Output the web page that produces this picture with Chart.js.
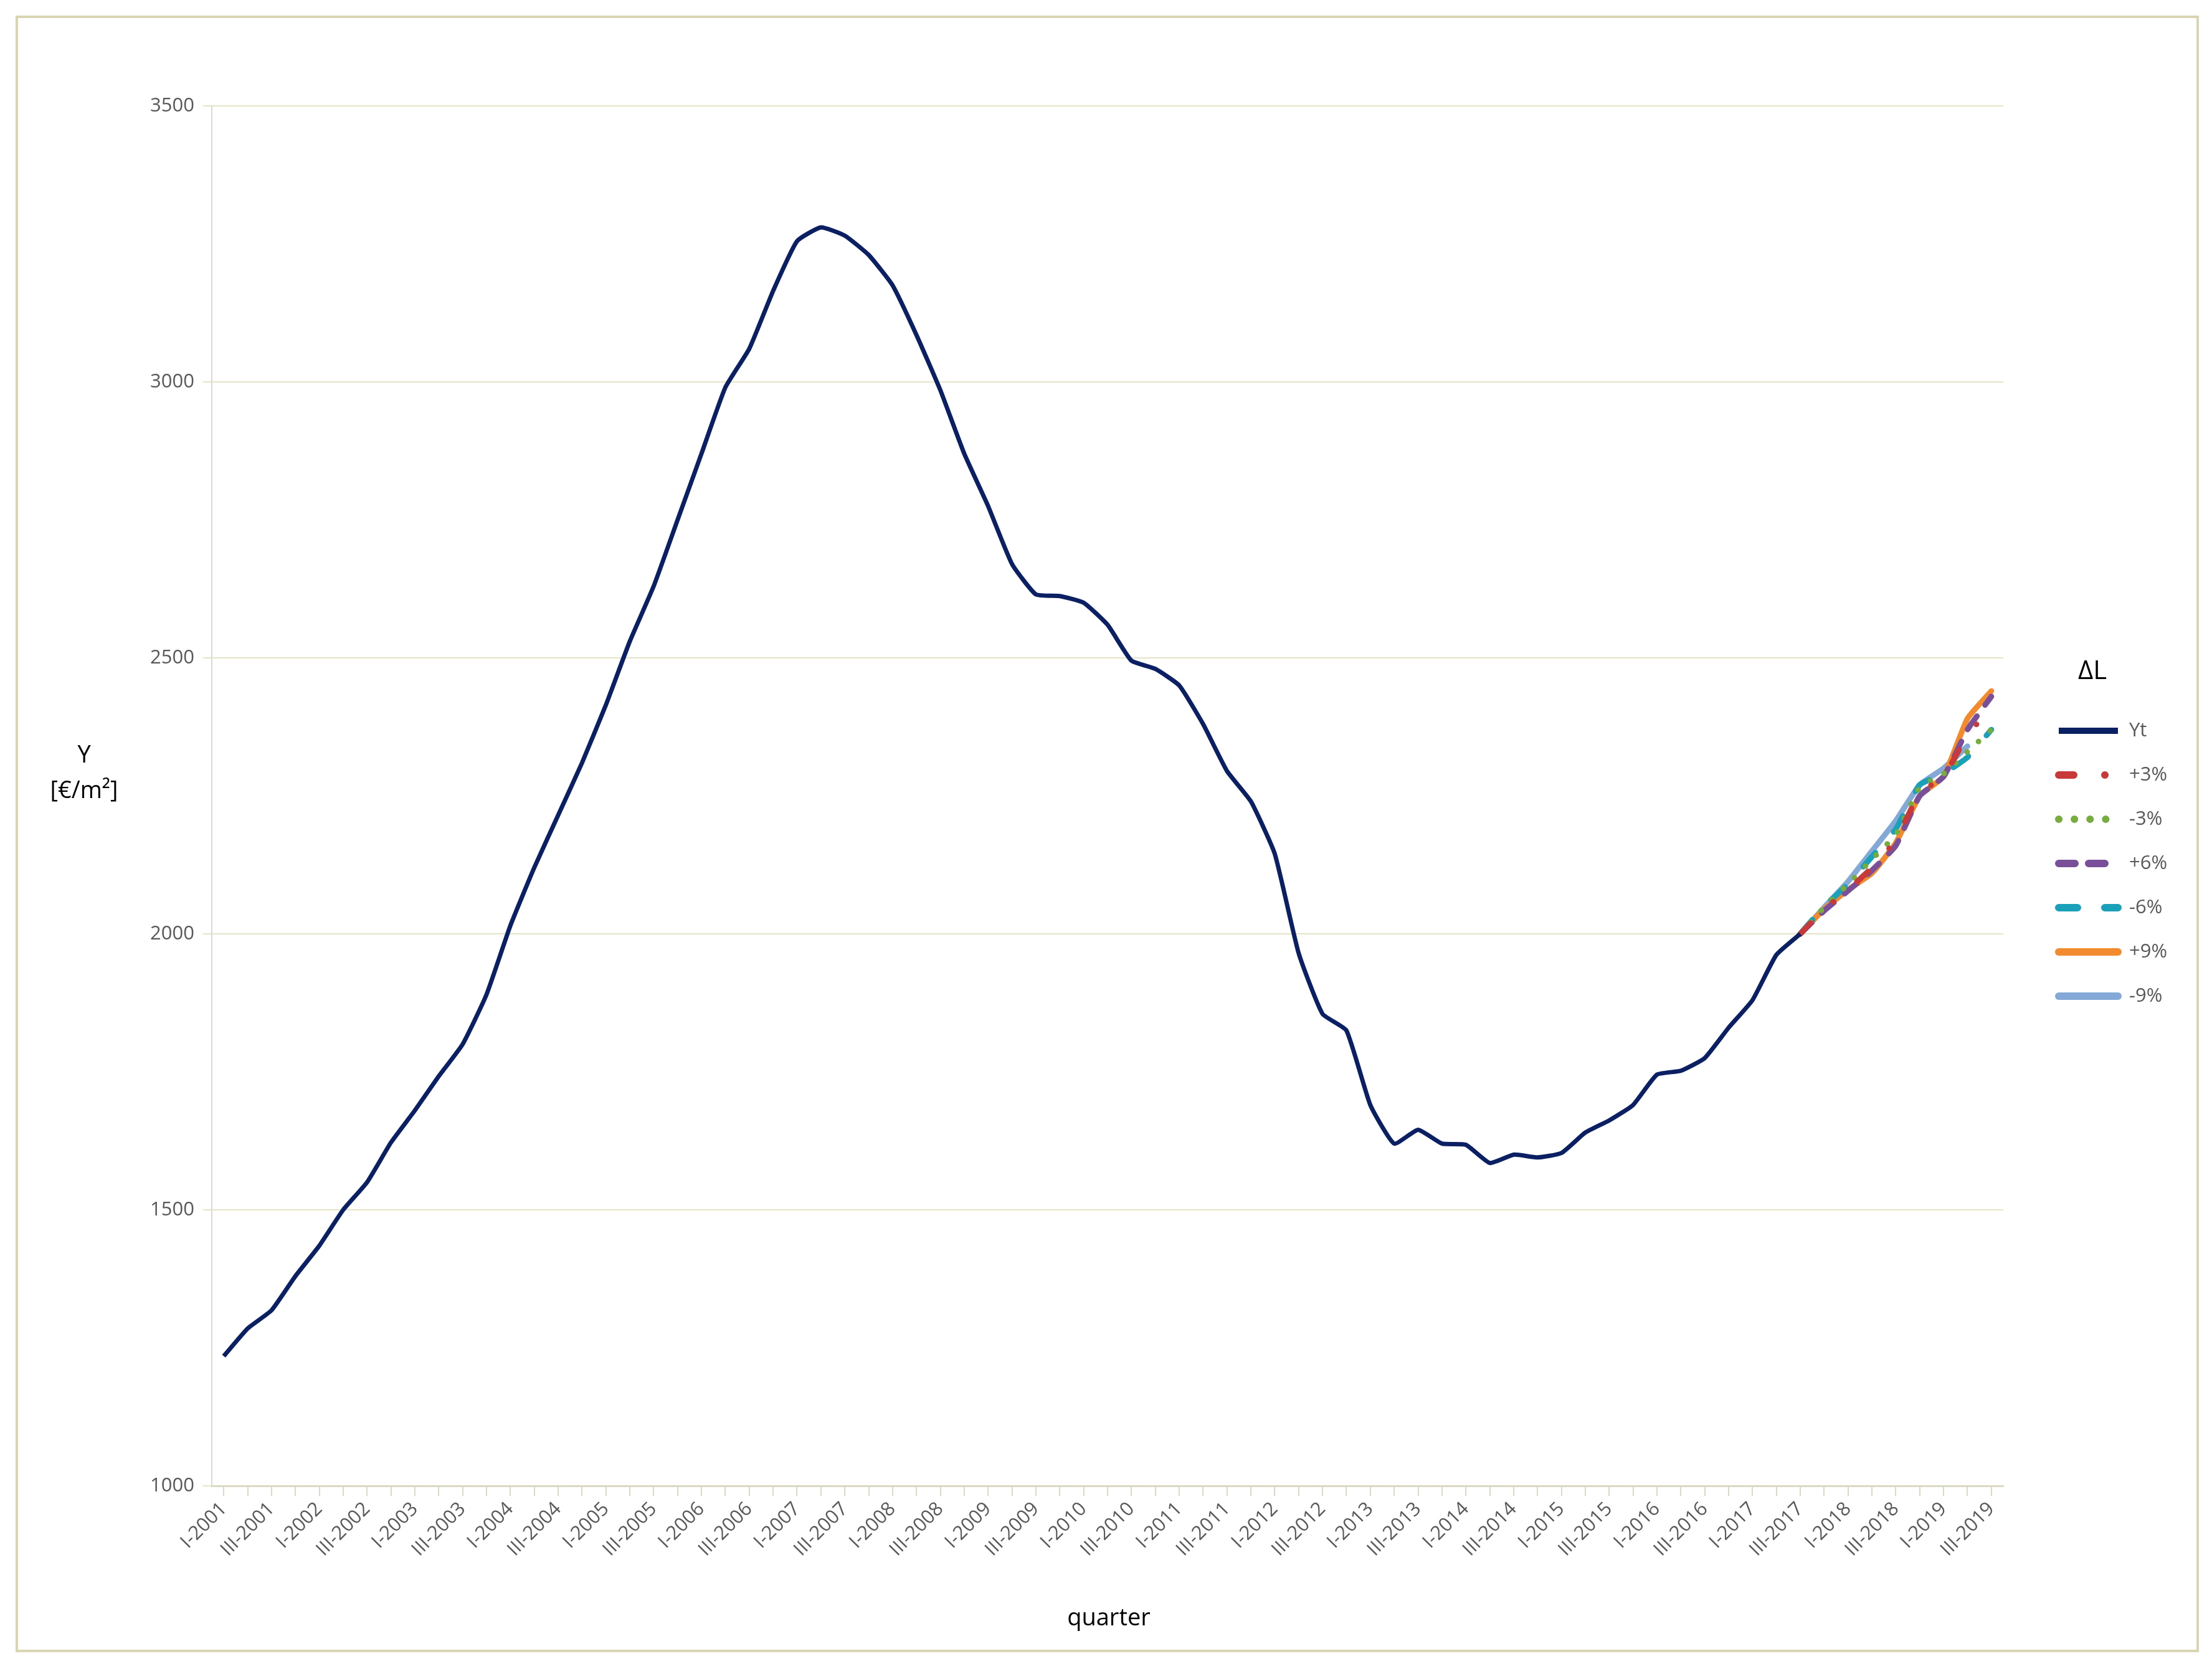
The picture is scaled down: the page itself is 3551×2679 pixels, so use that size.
<!DOCTYPE html>
<html><head><meta charset="utf-8">
<script src="https://cdn.jsdelivr.net/npm/chart.js@4"></script>
<style>html,body{margin:0;padding:0;background:#fff}#w{width:3551px;height:2679px}</style>
</head><body><div id="w"><canvas id="c"></canvas></div>
<script>
const years=[];for(let y=2001;y<=2019;y++)years.push(y);
const quarters=[];years.forEach(y=>['I','II','III','IV'].forEach(q=>{if(quarters.length<75)quarters.push(q+'-'+y);}));
const yt=[1235,1285,1318,1380,1435,1500,1550,1622,1680,1742,1800,1890,2015,2120,2215,2310,2415,2530,2630,2750,2870,2990,3060,3165,3255,3280,3265,3230,3175,3085,2985,2870,2775,2670,2615,2612,2600,2560,2495,2480,2450,2380,2295,2240,2145,1965,1855,1825,1690,1620,1645,1620,1618,1585,1600,1595,1603,1640,1662,1690,1745,1752,1775,1830,1880,1962,2000];
const p3=[2000,2045,2080,2120,2170,2255,2285,2360,2410];
const m3=[2000,2048,2090,2135,2180,2265,2290,2330,2370];
const p6=[2000,2042,2078,2115,2160,2250,2285,2370,2430];
const m6=[2000,2050,2090,2140,2190,2270,2290,2320,2370];
const p9=[2000,2045,2080,2110,2165,2250,2285,2390,2440];
const m9=[2000,2048,2095,2150,2205,2270,2300,2340];
const yTicks=[1000,1500,2000,2500,3000,3500];
const start=yt.length-1;
const pad=a=>Array(start).fill(null).concat(a);
const series=[
 {label:'Yt',data:yt,color:'#0b1f63',dash:[],w:7,cap:'butt'},
 {label:'+3%',data:pad(p3),color:'#c83a3a',dash:[24,50,0.1,50],w:9,cap:'round'},
 {label:'-3%',data:pad(m3),color:'#77ac3f',dash:[0.1,25],w:9,cap:'round'},
 {label:'+6%',data:pad(p6),color:'#7a4f9a',dash:[26,22],w:9,cap:'round'},
 {label:'-6%',data:pad(m6),color:'#1aa0b8',dash:[30,44],w:9,cap:'round'},
 {label:'+9%',data:pad(p9),color:'#f28a2e',dash:[],w:9,cap:'round'},
 {label:'-9%',data:pad(m9),color:'#84a9d6',dash:[],w:9,cap:'round'}];
const deco={id:'deco',beforeDraw(ch){const c=ch.ctx;c.save();c.fillStyle='#fff';c.fillRect(0,0,ch.width,ch.height);
 c.strokeStyle='#d9d5b3';c.lineWidth=4;c.strokeRect(27,27,3501,2623);c.restore();},
 afterDraw(ch){const c=ch.ctx;c.save();c.fillStyle='#000';c.textAlign='center';c.textBaseline='middle';
 c.font='38px "Open Sans", sans-serif';c.fillText('quarter',1780,2598);
 c.fillText('Y',135,1213);c.fillText('[€/m²]',135,1270);
 c.font='42px "Open Sans", sans-serif';c.fillText('ΔL',3359,1078);
 series.forEach((s,i)=>{const y=1173+i*71;c.strokeStyle=s.color;c.lineWidth=s.w+3;c.lineCap=s.cap;
  c.setLineDash(s.dash);c.beginPath();c.moveTo(3305,y);c.lineTo(3400,y);c.stroke();c.setLineDash([]);
  c.fillStyle='#595959';c.font='31px "Open Sans", sans-serif';c.textAlign='left';c.fillText(s.label,3418,y);});
 c.restore();}};
new Chart(document.getElementById('c'),{type:'line',
 data:{labels:quarters,datasets:series.map(s=>({label:s.label,data:s.data,borderColor:s.color,borderWidth:s.w,borderDash:s.dash,
  borderCapStyle:s.cap,pointRadius:0,tension:0.15,fill:false,spanGaps:false}))},
 options:{responsive:true,maintainAspectRatio:false,animation:false,devicePixelRatio:1,
  layout:{padding:{left:0,top:170,right:335,bottom:0}},
  plugins:{legend:{display:false},tooltip:{enabled:false}},
  scales:{
   x:{offset:true,grid:{drawOnChartArea:false,drawTicks:true,tickLength:16,color:'#d9d9c4',lineWidth:2},border:{color:'#d9d9c4',width:3},
    afterFit:s=>{s.height=294;},
    ticks:{autoSkip:false,minRotation:45,maxRotation:45,color:'#595959',font:{size:31,family:'"Open Sans", sans-serif'},
     callback:(v,i)=>i%2===0?quarters[i]:''}},
   y:{min:1000,max:3500,afterFit:s=>{s.width=340;},afterBuildTicks:s=>{s.ticks=yTicks.map(v=>({value:v}));},
    grid:{color:'#e5e3c8',lineWidth:2,tickLength:14},border:{color:'#d9d9d9',width:2},
    ticks:{color:'#595959',padding:14,font:{size:31,family:'"Open Sans", sans-serif'},callback:v=>String(v)}}}},
 plugins:[deco]});
</script></body></html>
